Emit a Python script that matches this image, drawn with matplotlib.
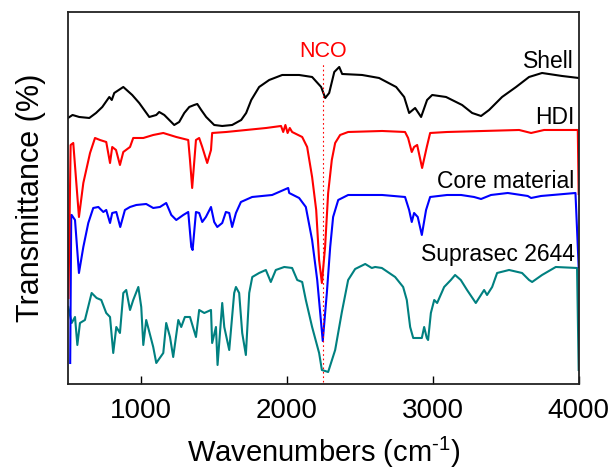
import numpy as np
import matplotlib
matplotlib.use("Agg")
import matplotlib.pyplot as plt

plt.rcParams['font.family'] = ['Liberation Sans', 'DejaVu Sans']
plt.rcParams['mathtext.fontset'] = 'custom'
plt.rcParams['mathtext.rm'] = 'Liberation Sans'

# Espectros (transmitancia en unidades relativas, con desplazamiento)
shell_wn = [500, 531, 577, 646, 692, 735, 783, 800, 817, 879, 940, 988, 1057, 1105,
            1125, 1160, 1228, 1262, 1297, 1331, 1365, 1386, 1413, 1447, 1502, 1557,
            1625, 1687, 1721, 1756, 1810, 1879, 1968, 2084, 2173, 2235, 2263, 2290,
            2325, 2359, 2379, 2516, 2632, 2749, 2804, 2838, 2879, 2920, 2961, 2996,
            3091, 3201, 3270, 3331, 3386, 3475, 3571, 3660, 3749, 3886, 4000]
shell_t = [266, 269, 267, 266, 271, 277, 287, 284, 291, 297, 289, 281, 267, 269,
           272, 269, 259, 262, 271, 277, 279, 280, 274, 267, 259, 258,
           259, 264, 271, 284, 297, 304, 309, 309, 307, 297, 286, 291,
           312, 317, 310, 309, 306, 297, 287, 271, 276, 267, 284, 289,
           287, 279, 271, 268, 274, 287, 297, 307, 311, 308, 306]

hdi_wn = [503, 518, 536, 575, 605, 651, 685, 719, 762, 788, 803, 829, 856, 879, 925,
          947, 1016, 1084, 1153, 1242, 1324, 1336, 1351, 1377, 1399, 1420, 1454, 1480,
          1488, 1584, 1721, 1858, 1960, 1975, 1990, 2005, 2020, 2036, 2105, 2139,
          2173, 2201, 2221, 2240, 2262, 2283, 2308, 2331, 2365, 2420, 2653, 2810,
          2831, 2856, 2872, 2893, 2927, 2959, 2982, 3098, 3592, 3674, 3763, 3994, 4000]
hdi_t = [86, 239, 241, 167, 201, 231, 246, 244, 242, 221, 237, 234, 219, 232, 237,
         246, 246, 249, 251, 247, 244, 224, 196, 244, 246, 237, 221, 234,
         251, 252, 254, 256, 258, 252, 259, 251, 256, 252, 247, 237,
         207, 174, 124, 101, 137, 191, 224, 241, 249, 252, 253, 252,
         246, 232, 237, 239, 216, 237, 251, 252, 254, 251, 254, 254, 190]

core_wn = [515, 522, 525, 548, 575, 605, 639, 673, 708, 742, 762, 788, 803, 831, 858,
           890, 925, 968, 1036, 1084, 1130, 1173, 1208, 1242, 1290, 1324, 1345, 1354,
           1377, 1399, 1420, 1445, 1480, 1502, 1523, 1557, 1582, 1605, 1625, 1651,
           1685, 1762, 1899, 2009, 2016, 2084, 2130, 2173, 2208, 2246, 2274, 2297,
           2317, 2352, 2420, 2653, 2810, 2838, 2856, 2872, 2897, 2925, 2954, 2982,
           3098, 3194, 3283, 3331, 3399, 3514, 3651, 3674, 3742, 3978, 4000]
core_t = [21, 169, 169, 164, 111, 137, 161, 176, 177, 172, 174, 161, 171, 172, 157,
          174, 177, 179, 180, 176, 177, 181, 169, 164, 169, 172, 137, 134,
          172, 171, 162, 167, 177, 162, 157, 161, 172, 171, 157, 171,
          182, 187, 189, 196, 191, 186, 177, 144, 104, 43, 91, 137,
          167, 184, 189, 189, 187, 174, 162, 171, 167, 149, 174, 187,
          189, 189, 187, 185, 189, 191, 188, 186, 188, 191, 117]

supra_wn = [502, 525, 548, 564, 582, 616, 662, 696, 728, 762, 788, 810, 831, 856, 879,
            899, 925, 947, 982, 1002, 1016, 1036, 1084, 1105, 1153, 1173, 1199, 1221,
            1256, 1276, 1301, 1336, 1377, 1399, 1434, 1480, 1488, 1514, 1525, 1557,
            1571, 1605, 1639, 1651, 1673, 1694, 1719, 1742, 1763, 1810, 1856, 1890,
            1924, 1982, 2036, 2071, 2105, 2130, 2173, 2221, 2240, 2283, 2331, 2377,
            2420, 2468, 2537, 2582, 2605, 2651, 2742, 2797, 2822, 2845, 2866, 2893,
            2925, 2941, 2959, 2968, 2987, 3010, 3030, 3078, 3124, 3153, 3192, 3235,
            3295, 3352, 3372, 3407, 3441, 3523, 3612, 3660, 3681, 3749, 3843, 3989, 4000]
supra_t = [77, 61, 67, 39, 61, 64, 91, 86, 84, 71, 67, 31, 57, 51, 91,
           94, 74, 84, 97, 77, 39, 64, 37, 21, 31, 61, 47, 27,
           64, 57, 67, 67, 47, 74, 71, 74, 41, 57, 19, 81,
           57, 34, 91, 97, 91, 51, 29, 91, 107, 111, 114, 102,
           114, 117, 116, 104, 102, 84, 57, 31, 14, 12, 34, 72,
           104, 115, 120, 116, 117, 116, 107, 97, 84, 57, 46, 46,
           46, 57, 46, 44, 71, 84, 81, 97, 104, 109, 104, 94,
           81, 94, 89, 97, 111, 114, 111, 104, 102, 109, 117, 116, 14]

fig = plt.figure(figsize=(6.16, 4.70), dpi=100)
ax = fig.add_axes([0.1104, 0.183, 0.829, 0.7915])

lw = 1.5
ax.plot(supra_wn, supra_t, color='#008080', lw=lw)
ax.plot(core_wn, core_t, color='#0000ff', lw=lw)
ax.plot(hdi_wn, hdi_t, color='#ff0000', lw=lw)
ax.plot(shell_wn, shell_t, color='black', lw=lw)

# Linea punteada de la banda NCO
ax.plot([2250, 2250], [2, 322], color='#ff0000', lw=0.8, ls=(0, (1.5, 2.5)))
ax.text(2250, 332, 'NCO', color='#ff0000', fontsize=15.5, ha='center', va='center')

ax.text(3968, 322, 'Shell', fontsize=16.5, ha='right', va='center')
ax.text(3968, 266, 'HDI', fontsize=16.5, ha='right', va='center')
ax.text(3968, 202, 'Core material', fontsize=16.5, ha='right', va='center')
ax.text(3975, 129, 'Suprasec 2644', fontsize=16.5, ha='right', va='center')

ax.set_xlim(500, 4000)
ax.set_ylim(0, 372)
ax.set_xticks([1000, 2000, 3000, 4000])
ax.set_yticks([])
ax.tick_params(axis='x', direction='in', length=6, width=1, labelsize=20, pad=10,
               top=False)
for s in ax.spines.values():
    s.set_linewidth(1.3)
    s.set_color('#222222')

ax.set_xlabel('Wavenumbers (cm$^{\\mathregular{\u2010 1}}$)', fontsize=21, labelpad=8)
ax.set_ylabel('Transmittance (%)', fontsize=22, labelpad=16)

plt.savefig('out.png', dpi=100)
